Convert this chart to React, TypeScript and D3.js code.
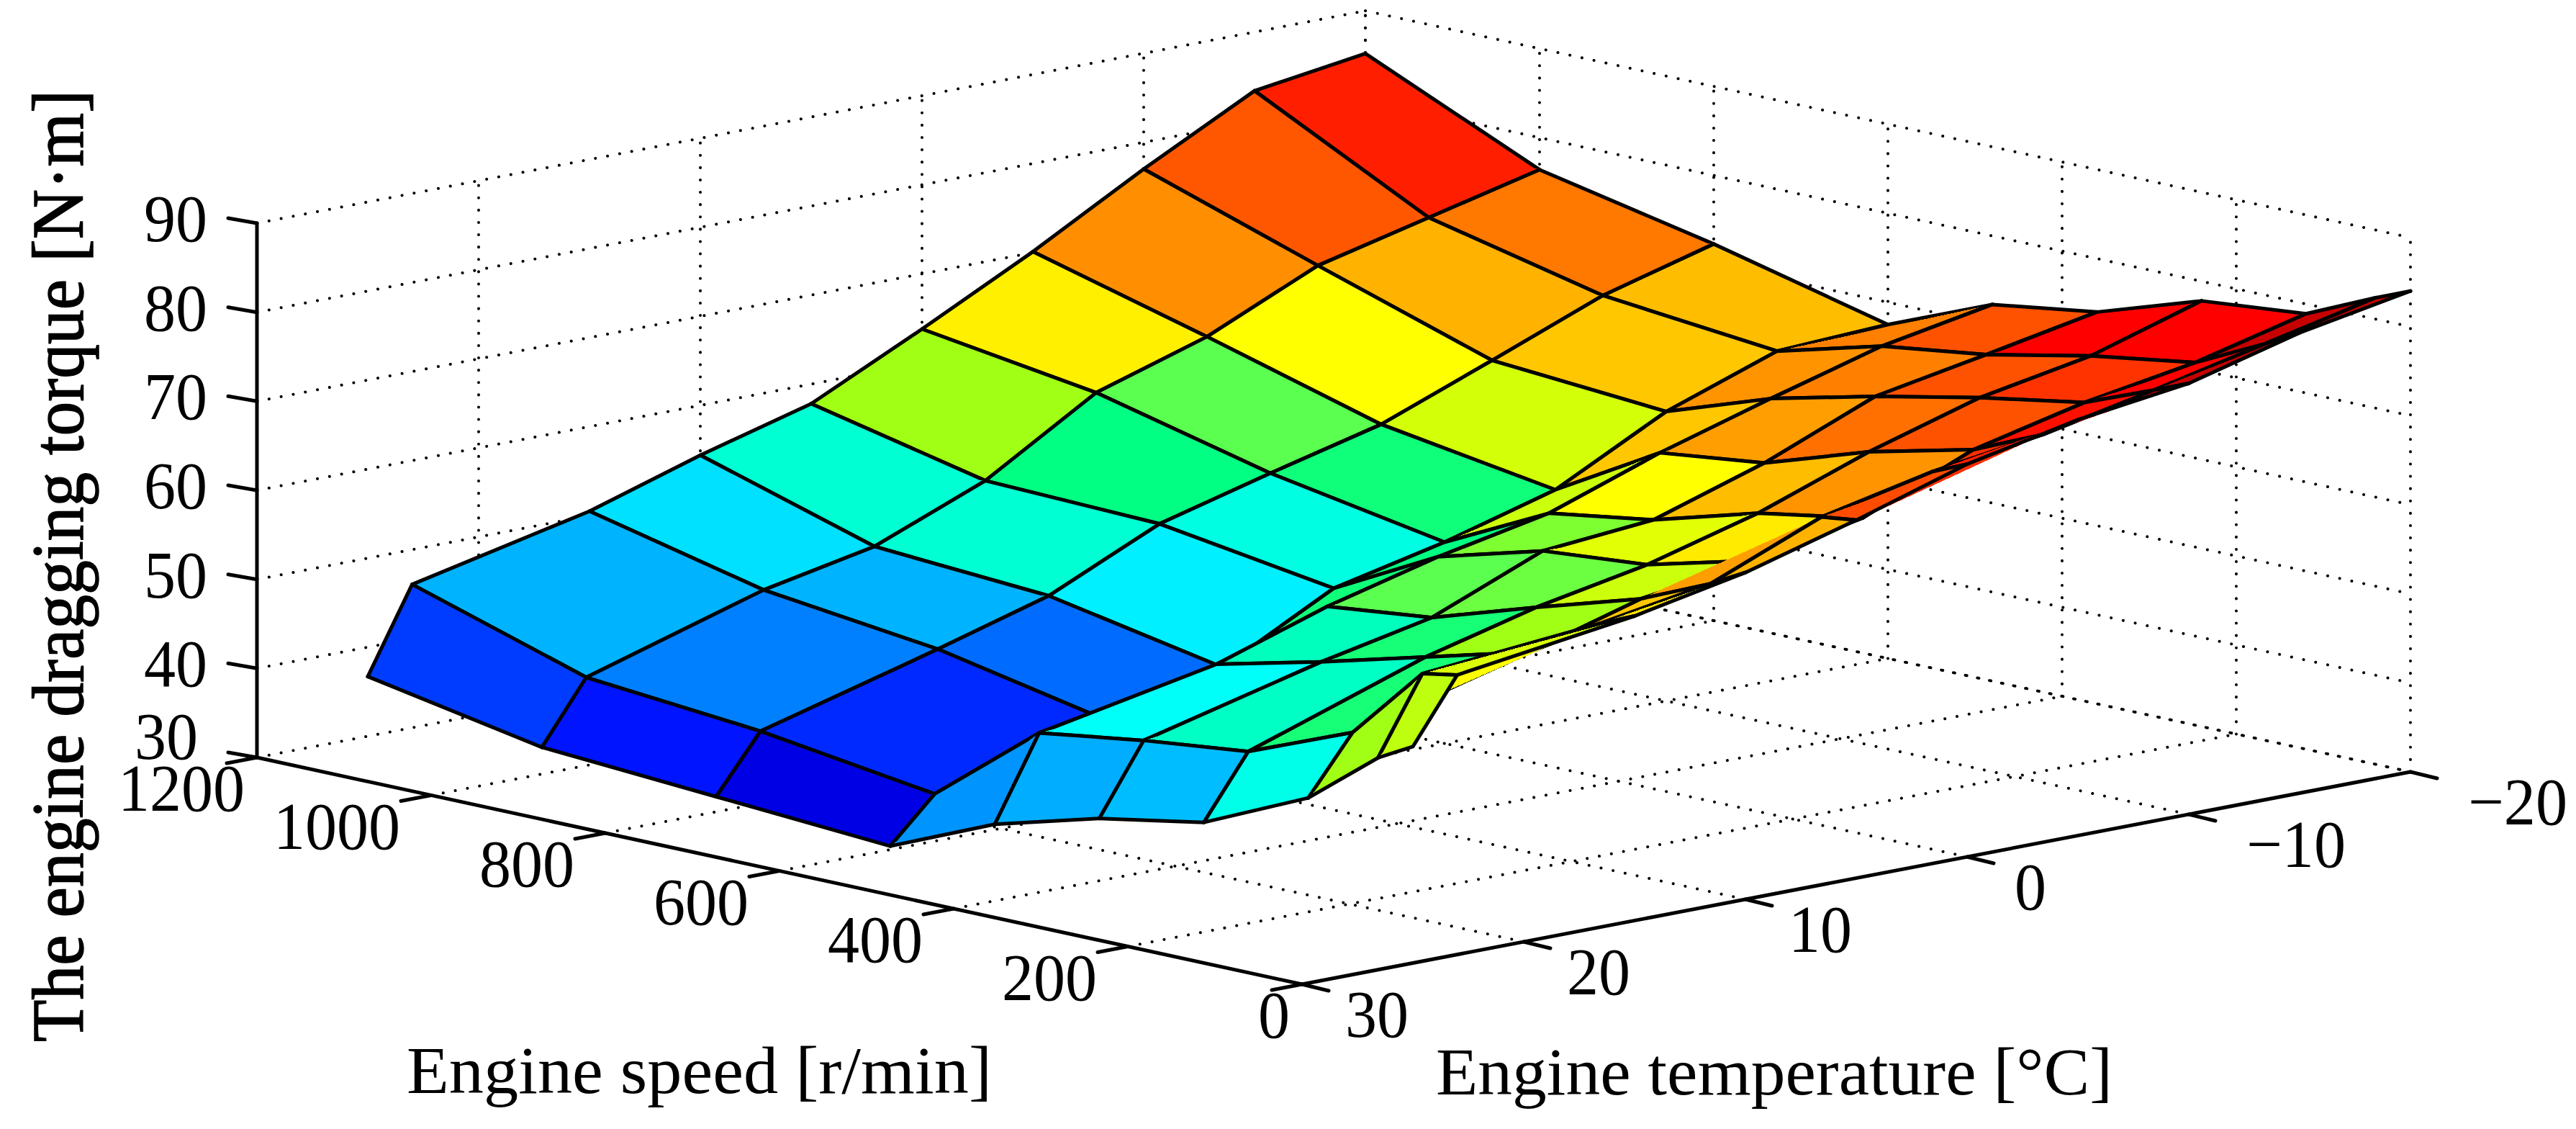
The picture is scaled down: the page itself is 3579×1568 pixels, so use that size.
import React, { useRef, useEffect } from 'react';
import * as d3 from 'd3';

// grid of the surface, far corner first
const speeds = [1200, 1000, 800, 600, 480, 360, 240, 120, 40, 0];
const temps = [25, 23, 15, 10, 5, 0, -5, -10, -15, -20];

// torque [N·m], one row per speed, one column per temperature
const torque = [
    [36.7, 46.1, 50.5, 54.4, 57.8, 63.8, 70.1, 77.0, 83.4, 85.2],
    [33.0, 39.9, 45.9, 48.4, 53.4, 60.9, 64.8, 70.4, 73.4, 76.4],
    [31.7, 38.1, 43.5, 47.1, 52.8, 56.1, 59.2, 64.0, 68.9, 72.3],
    [30.4, 35.3, 39.5, 43.3, 49.8, 52.6, 56.1, 62.5, 66.9, 67.5],
    [35.4, 44.7, 48.6, 52.7, 55.9, 58.4, 62.8, 66.5, 70.0, 72.3],
    [38.6, 46.4, 51.4, 54.0, 59.1, 60.2, 64.2, 69.3, 71.6, 74.0],
    [40.7, 47.7, 54.5, 57.7, 60.1, 63.5, 68.0, 71.7, 74.0, 77.8],
    [46.0, 52.4, 57.6, 61.2, 63.1, 65.5, 70.8, 73.7, 75.8, 78.9],
    [52.2, 60.7, 62.5, 64.6, 69.7, 72.4, 74.2, 76.8, 79.6, 82.4],
    [54.3, 61.4, 64.2, 66.7, 70.2, 74.1, 76.7, 78.4, 81.7, 84.0],
];

// colour level (0..1 of the colormap) of each facet
const faceLevels = [
    [0.184, 0.30, 0.345, 0.405, 0.56, 0.64, 0.735, 0.79, 0.845],
    [0.145, 0.25, 0.30, 0.405, 0.46, 0.52, 0.625, 0.70, 0.757],
    [0.095, 0.165, 0.23, 0.36, 0.395, 0.47, 0.595, 0.68, 0.69],
    [0.27, 0.30, 0.42, 0.47, 0.46, 0.59, 0.68, 0.73, 0.75],
    [0.295, 0.38, 0.42, 0.52, 0.54, 0.625, 0.72, 0.75, 0.795],
    [0.31, 0.415, 0.475, 0.53, 0.605, 0.69, 0.765, 0.795, 0.875],
    [0.39, 0.475, 0.56, 0.59, 0.645, 0.73, 0.795, 0.825, 0.875],
    [0.56, 0.625, 0.68, 0.72, 0.74, 0.83, 0.86, 0.875, 0.93],
    [0.58, 0.60, 0.65, 0.70, 0.80, 0.845, 0.875, 0.93, 0.93],
];

const speedTicks = [0, 200, 400, 600, 800, 1000, 1200];
const tempTicks = [30, 20, 10, 0, -10, -20];
const torqueTicks = [30, 40, 50, 60, 70, 80, 90];

const colorStops = [0, 0.125, 0.375, 0.46, 0.52, 0.56, 0.625, 0.875, 1];
const colorRange = ['#00008f', '#0000ff', '#00ffff', '#00ff82', '#5aff50', '#a0ff14', '#ffff00', '#ff0000', '#800000'];

const FONT = '"Liberation Serif", serif';

function App() {
    const ref = useRef<SVGSVGElement>(null);

    useEffect(() => {
        const svg = d3.select(ref.current);
        svg.selectAll('*').remove();

        // orthographic view: each axis is a straight line on the screen
        const speedX = d3.scaleLinear().domain([0, 1200]).range([0, -1452]);
        const speedY = d3.scaleLinear().domain([0, 1200]).range([0, -315]);
        const tempX = d3.scaleLinear().domain([30, -20]).range([1809, 3349]);
        const tempY = d3.scaleLinear().domain([30, -20]).range([1367, 1072]);
        const torqueY = d3.scaleLinear().domain([30, 90]).range([0, -742]);

        const project = (t: number, s: number, z: number): [number, number] => [
            tempX(t) + speedX(s),
            tempY(t) + speedY(s) + torqueY(z),
        ];

        const color = d3.scaleLinear<string>().domain(colorStops).range(colorRange);
        const line = d3.line();

        const black = (g: any, pts: [number, number][], w = 5) =>
            g.append('path')
                .attr('d', line(pts))
                .attr('fill', 'none')
                .attr('stroke', '#000')
                .attr('stroke-width', w)
                .attr('stroke-linecap', 'round')
                .attr('stroke-linejoin', 'round');

        const dotted = (g: any, a: [number, number], b: [number, number]) =>
            g.append('path')
                .attr('d', line([a, b]))
                .attr('fill', 'none')
                .attr('stroke', '#000')
                .attr('stroke-width', 4)
                .attr('stroke-linecap', 'round')
                .attr('stroke-dasharray', '0.1 17');

        // grid on the floor and the two back walls
        const grid = svg.append('g');
        const zMin = 30;
        const zMax = 90;
        speedTicks.forEach(s => {
            if (s > 0) dotted(grid, project(30, s, zMin), project(-20, s, zMin));
            dotted(grid, project(-20, s, zMin), project(-20, s, zMax));
        });
        tempTicks.forEach(t => {
            if (t < 30) dotted(grid, project(t, 0, zMin), project(t, 1200, zMin));
            if (t < 30) dotted(grid, project(t, 1200, zMin), project(t, 1200, zMax));
        });
        torqueTicks.forEach(z => {
            if (z > 30) dotted(grid, project(30, 1200, z), project(-20, 1200, z));
            dotted(grid, project(-20, 1200, z), project(-20, 0, z));
        });

        // axes and tick marks
        const axes = svg.append('g');
        black(axes, [project(30, 1200, zMin), project(30, 1200, zMax)]);
        black(axes, [project(30, 0, zMin), project(30, 1200, zMin)]);
        black(axes, [project(30, 0, zMin), project(-20, 0, zMin)]);
        torqueTicks.forEach(z => {
            const [x, y] = project(30, 1200, z);
            black(axes, [[x, y], [x - 40, y - 7]]);
        });
        speedTicks.forEach(s => {
            const [x, y] = project(30, s, zMin);
            black(axes, [[x, y], [x - 42, y + 8]]);
        });
        tempTicks.forEach(t => {
            const [x, y] = project(t, 0, zMin);
            black(axes, [[x, y], [x + 37, y + 9]]);
        });

        // surface, far facets first. Each facet folds along an unstroked diagonal
        const surface = svg.append('g');
        const node = (i: number, j: number) => project(temps[j], speeds[i], torque[i][j]);
        faceLevels.forEach((row, i) => {
            d3.range(row.length - 1, -1, -1).forEach(j => {
                const a = node(i, j);
                const b = node(i, j + 1);
                const c = node(i + 1, j + 1);
                const d = node(i + 1, j);
                const fill = color(row[j]);
                [[a, b, c], [c, d, a]].forEach(tri => {
                    surface.append('polygon')
                        .attr('points', tri.join(' '))
                        .attr('fill', fill)
                        .attr('shape-rendering', 'crispEdges');
                    black(surface, tri);
                });
            });
        });

        // labels
        const text = (str: string, x: number, y: number, anchor: string, size = 94) =>
            svg.append('text')
                .attr('x', x)
                .attr('y', y)
                .attr('text-anchor', anchor)
                .attr('font-family', FONT)
                .attr('font-size', size)
                .attr('fill', '#000')
                .text(str);

        const digitWidth = 44;
        const tick = (str: string, x: number, y: number, anchor: string, width = str.length * digitWidth) =>
            text(str, x, y, anchor).attr('textLength', width).attr('lengthAdjust', 'spacingAndGlyphs');

        torqueTicks.forEach(z => {
            const [x, y] = project(30, 1200, z);
            const low = z === 30;
            tick(String(z), x - (low ? 82 : 69), y + (low ? 2 : 25), 'end');
        });
        speedTicks.forEach(s => {
            const [x, y] = project(30, s, zMin);
            const end = s === 0 || s === 1200;
            tick(String(s), x - (end ? 17 : 43), y + 74, 'end');
        });
        tempTicks.forEach(t => {
            const [x, y] = project(t, 0, zMin);
            const str = t < 0 ? '\u2212' + Math.abs(t) : String(t);
            tick(str, x + (t < 0 ? 80 : t === 0 ? 66 : 60), y + 73, 'start', t < 0 ? 138 : str.length * digitWidth);
        });

        text('Engine speed [r/min]', 565, 1518, 'start', 93).attr('textLength', 813).attr('lengthAdjust', 'spacingAndGlyphs');
        text('Engine temperature [°C]', 1995, 1520, 'start', 93).attr('textLength', 940).attr('lengthAdjust', 'spacingAndGlyphs');
        text('The engine dragging torque [N·m]', 0, 0, 'middle', 102)
            .attr('transform', 'translate(115,786) rotate(-90)')
            .attr('textLength', 1322)
            .attr('lengthAdjust', 'spacingAndGlyphs')
            .attr('stroke', '#000')
            .attr('stroke-width', 1.5);
    }, []);

    return (
        <svg
            ref={ref}
            width={3579}
            height={1568}
            style={{ position: 'absolute', left: 0, top: 0, display: 'block', background: '#fff' }}
        />
    );
}

export default App;
